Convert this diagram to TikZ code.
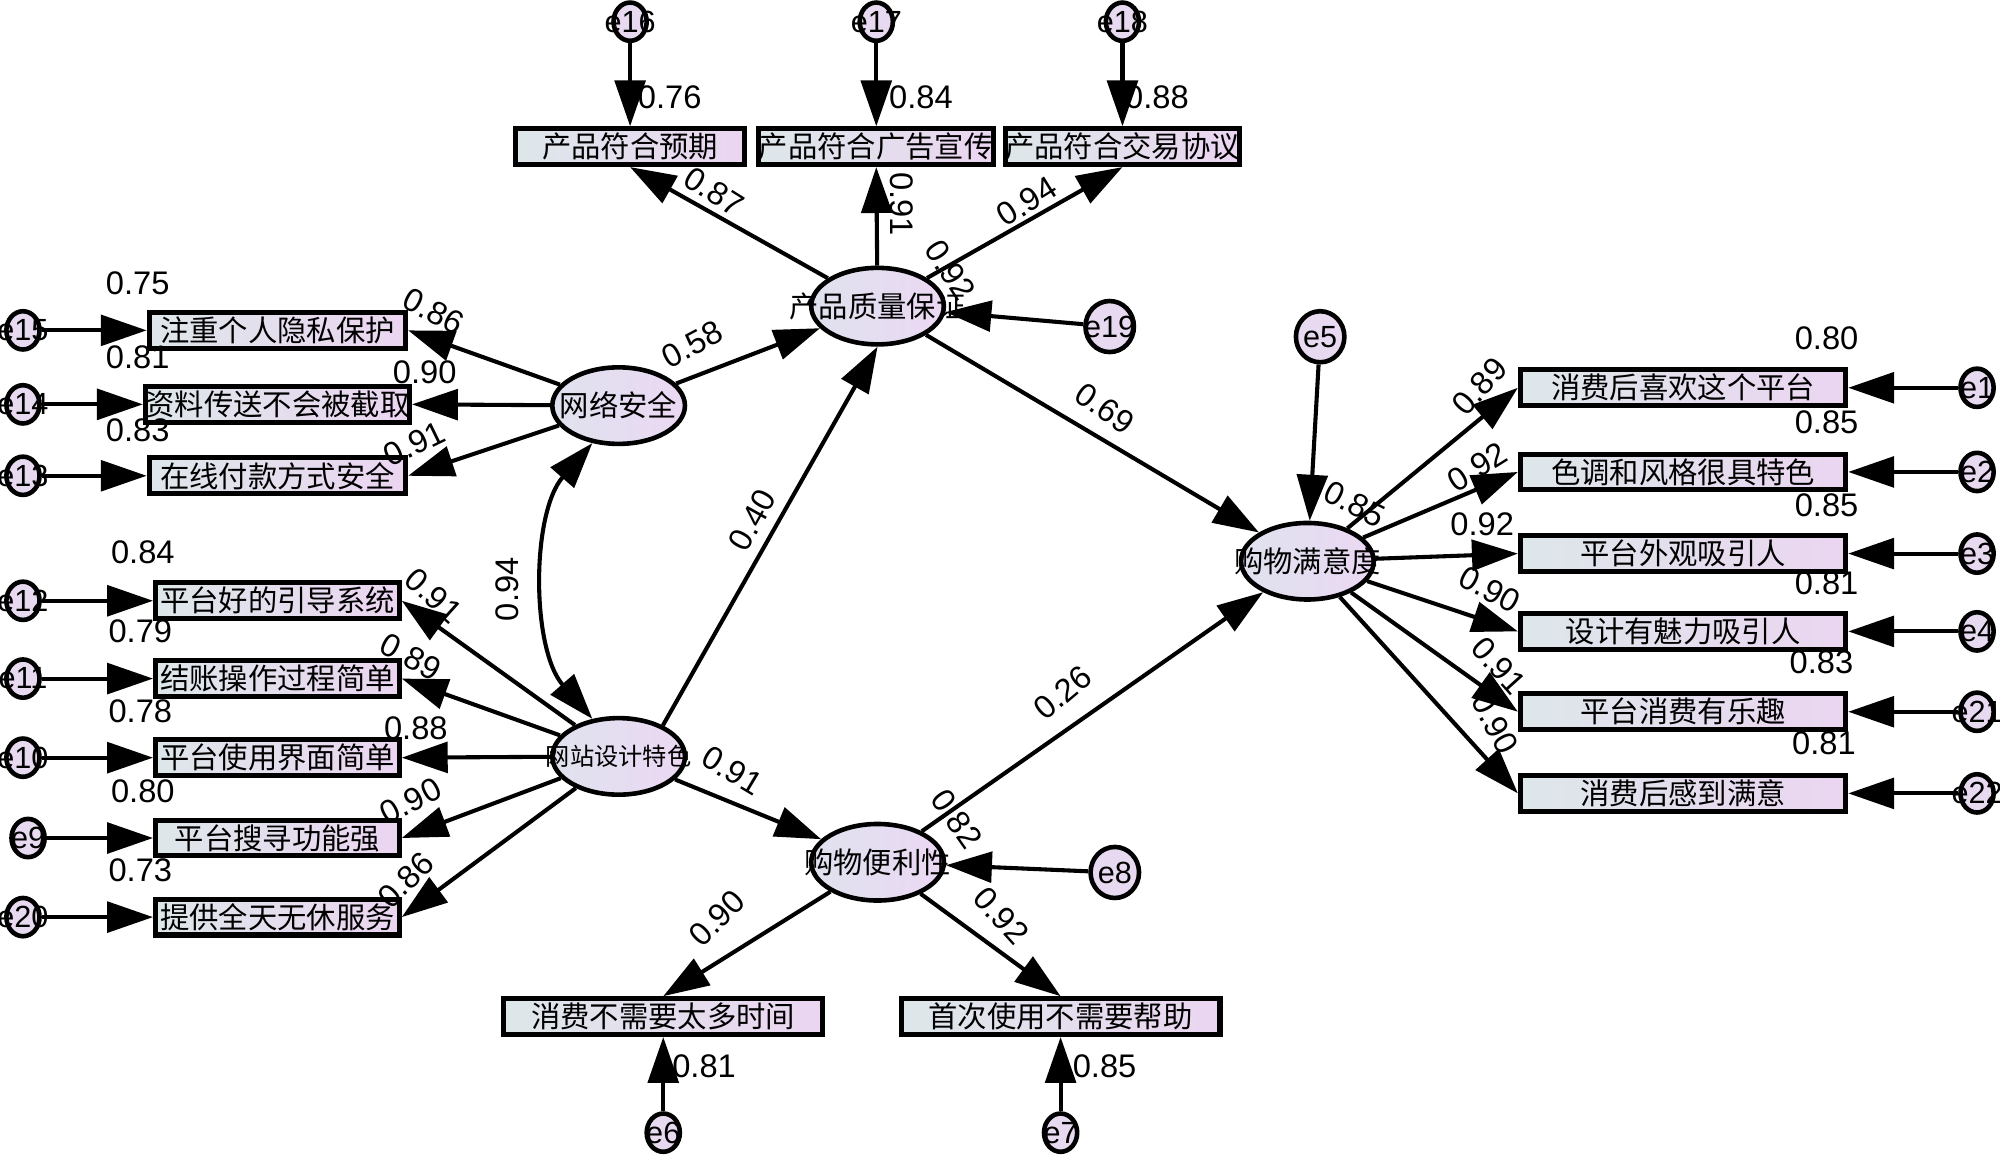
\documentclass[tikz,border=0pt]{standalone}
\usepackage{fontspec}
\setmainfont{Liberation Sans}
\newfontfamily\cjk{Noto Sans CJK SC}
\usetikzlibrary{arrows.meta,shapes.geometric}
\definecolor{boxL}{HTML}{DDE7EA}
\definecolor{boxR}{HTML}{EBD5F1}
\definecolor{latL}{HTML}{DFE2EE}
\definecolor{latR}{HTML}{EBD8F3}
\definecolor{errF}{HTML}{E7DAF0}
\tikzset{
 obs/.style={rectangle, draw, line width=2pt, left color=boxL, right color=boxR, minimum height=14pt, inner sep=0pt, font=\cjk\fontsize{11.5}{12}\selectfont},
 lat/.style={ellipse, draw, line width=1.8pt, left color=latL, right color=latR, minimum width=52pt, minimum height=30pt, inner sep=0pt},
 latlbl/.style={font=\cjk\fontsize{11.5}{12}\selectfont, inner sep=0pt},
 errs/.style={ellipse, draw, line width=1.8pt, fill=errF, minimum width=13pt, minimum height=15pt, inner sep=0pt},
 errb/.style={ellipse, draw, line width=1.8pt, fill=errF, minimum width=19pt, minimum height=20pt, inner sep=0pt},
 elbl/.style={font=\fontsize{12}{12}\selectfont, inner sep=0pt},
 num/.style={font=\fontsize{12.8}{13}\selectfont, inner sep=0pt},
 arr/.style={line width=1.6pt, -{Triangle[length=18pt,width=12pt]}},
 darr/.style={line width=1.6pt, {Triangle[length=18pt,width=12pt]}-{Triangle[length=18pt,width=12pt]}},
}
\begin{document}
\begin{tikzpicture}[x=0.5pt,y=-0.5pt]
\useasboundingbox (0,0) rectangle (1568,906);
\fill[white] (0,0) rectangle (1568,906);
% ---------- latent variables
\node[lat, label={[latlbl]center:产品质量保证}] (pq) at (688,240) {};
\node[lat, label={[latlbl]center:网络安全}] (ns) at (485,318) {};
\node[lat, label={[latlbl,font=\cjk\fontsize{9.5}{10}\selectfont]center:网站设计特色}] (wd) at (485,593) {};
\node[lat, label={[latlbl]center:购物便利性}] (cv) at (688,676) {};
\node[lat, label={[latlbl]center:购物满意度}] (sat) at (1025,440) {};
% ---------- top indicators
\node[obs, minimum width=90pt] (t1) at (494,115) {产品符合预期};
\node[obs, minimum width=90pt] (t2) at (687,115) {产品符合广告宣传};
\node[obs, minimum width=90pt] (t3) at (880,115) {产品符合交易协议};
\node[errs, label={[elbl]center:e16}] (e16) at (494,17) {};
\node[errs, label={[elbl]center:e17}] (e17) at (687,17) {};
\node[errs, label={[elbl]center:e18}] (e18) at (880,17) {};
% ---------- left group 1
\node[obs, minimum width=100.5pt] (s1) at (217.5,259) {注重个人隐私保护};
\node[obs, minimum width=100.5pt] (s2) at (217.5,317) {资料传送不会被截取};
\node[obs, minimum width=100.5pt] (s3) at (217.5,373) {在线付款方式安全};
\node[errs, label={[elbl]center:e15}] (e15) at (18,259) {};
\node[errs, label={[elbl]center:e14}] (e14) at (18,317) {};
\node[errs, label={[elbl]center:e13}] (e13) at (18,373) {};
% ---------- left group 2
\node[obs, minimum width=95.5pt] (w1) at (217.5,471) {平台好的引导系统};
\node[obs, minimum width=95.5pt] (w2) at (217.5,532) {结账操作过程简单};
\node[obs, minimum width=95.5pt] (w3) at (217.5,594) {平台使用界面简单};
\node[obs, minimum width=95.5pt] (w4) at (217.5,657) {平台搜寻功能强};
\node[obs, minimum width=95.5pt] (w5) at (217.5,719) {提供全天无休服务};
\node[errs, label={[elbl]center:e12}] (e12) at (18,471) {};
\node[errs, label={[elbl]center:e11}] (e11) at (18,532) {};
\node[errs, label={[elbl]center:e10}] (e10) at (18,594) {};
\node[errs, label={[elbl]center:e9}] (e9) at (22,657) {};
\node[errs, label={[elbl]center:e20}] (e20) at (18,719) {};
% ---------- bottom indicators
\node[obs, minimum width=125pt] (c1) at (520,797) {消费不需要太多时间};
\node[obs, minimum width=125pt] (c2) at (831.5,797) {首次使用不需要帮助};
\node[errs, label={[elbl]center:e6}] (e6) at (520,888) {};
\node[errs, label={[elbl]center:e7}] (e7) at (831.5,888) {};
% ---------- right indicators
\node[obs, minimum width=127.5pt] (r1) at (1319.5,304) {消费后喜欢这个平台};
\node[obs, minimum width=127.5pt] (r2) at (1319.5,370) {色调和风格很具特色};
\node[obs, minimum width=127.5pt] (r3) at (1319.5,434) {平台外观吸引人};
\node[obs, minimum width=127.5pt] (r4) at (1319.5,495) {设计有魅力吸引人};
\node[obs, minimum width=127.5pt] (r5) at (1319.5,558) {平台消费有乐趣};
\node[obs, minimum width=127.5pt] (r6) at (1319.5,622) {消费后感到满意};
\node[errs, label={[elbl]center:e1}] (e1) at (1550,304) {};
\node[errs, label={[elbl]center:e2}] (e2) at (1550,370) {};
\node[errs, label={[elbl]center:e3}] (e3) at (1550,434) {};
\node[errs, label={[elbl]center:e4}] (e4) at (1550,495) {};
\node[errs, label={[elbl]center:e21}] (e21) at (1550,558) {};
\node[errs, label={[elbl]center:e22}] (e22) at (1550,622) {};
% ---------- structural disturbances
\node[errb, label={[elbl]center:e19}] (e19) at (870,256) {};
\node[errb, label={[elbl]center:e5}] (e5) at (1035,264) {};
\node[errb, label={[elbl]center:e8}] (e8) at (874,684) {};
% ---------- connectors
\foreach \e/\b in {e16/t1,e17/t2,e18/t3} \draw[arr] (\e) -- (\b.north);
\foreach \b in {t1,t2,t3} \draw[arr] (pq) -- (\b.south);
\foreach \e/\b in {e15/s1,e14/s2,e13/s3,e12/w1,e11/w2,e10/w3,e9/w4,e20/w5} \draw[arr] (\e) -- (\b.west);
\foreach \b in {s1,s2,s3} \draw[arr] (ns) -- (\b.east);
\foreach \b in {w1,w2,w3,w4,w5} \draw[arr] (wd) -- (\b.east);
\foreach \b in {c1,c2} \draw[arr] (cv) -- (\b.north);
\foreach \e/\b in {e6/c1,e7/c2} \draw[arr] (\e) -- (\b.south);
\foreach \b in {r1,r2,r3,r4,r5,r6} \draw[arr] (sat) -- (\b.west);
\foreach \e/\b in {e1/r1,e2/r2,e3/r3,e4/r4,e21/r5,e22/r6} \draw[arr] (\e) -- (\b.east);
\draw[arr] (ns) -- (pq);
\draw[arr] (wd.35) -- (pq.south);
\draw[arr] (wd) -- (cv);
\draw[arr] (pq) -- (sat);
\draw[arr] (cv) -- (sat);
\draw[arr] (e19) -- (pq);
\draw[arr] (e5) -- (sat);
\draw[arr] (e8) -- (cv);
\draw[darr] (ns.235) .. controls +(-48,55) and +(-48,-55) .. (wd.125);
% ---------- numbers
\node[num] (n1) at (525,76) {0.76};
\node[num] (n2) at (722,76) {0.84};
\node[num] (n3) at (907,76) {0.88};
\node[num,rotate=-32] (n4) at (560,150) {0.87};
\node[num,rotate=-90] (n5) at (707,160) {0.91};
\node[num,rotate=32] (n6) at (805,158) {0.94};
\node[num,rotate=-57] (n7) at (745,212) {0.92};
\node[num] (n8) at (108,222) {0.75};
\node[num] (n9) at (108,280) {0.81};
\node[num] (n10) at (108,337) {0.83};
\node[num,rotate=-27] (n11) at (340,244) {0.86};
\node[num] (n12) at (333,292) {0.90};
\node[num,rotate=26] (n13) at (325,348) {0.91};
\node[num] (n14) at (112,433) {0.84};
\node[num] (n15) at (110,495) {0.79};
\node[num] (n16) at (110,558) {0.78};
\node[num] (n17) at (112,620) {0.80};
\node[num] (n18) at (110,682) {0.73};
\node[num,rotate=-42] (n19) at (340,467) {0.91};
\node[num,rotate=-28] (n20) at (322,515) {0.89};
\node[num] (n21) at (326,571) {0.88};
\node[num,rotate=28] (n22) at (322,628) {0.90};
\node[num,rotate=45] (n23) at (318,690) {0.86};
\node[num,rotate=90] (n24) at (398,462) {0.94};
\node[num,rotate=28] (n25) at (543,270) {0.58};
\node[num,rotate=61] (n26) at (590,408) {0.40};
\node[num,rotate=-31] (n27) at (574,604) {0.91};
\node[num,rotate=40] (n28) at (833,543) {0.26};
\node[num,rotate=-35] (n29) at (866,320) {0.69};
\node[num,rotate=-55] (n30) at (750,642) {0.82};
\node[num,rotate=-27] (n31) at (1062,395) {0.85};
\node[num,rotate=45] (n32) at (562,720) {0.90};
\node[num,rotate=-48] (n33) at (785,718) {0.92};
\node[num] (n34) at (552,836) {0.81};
\node[num] (n35) at (866,836) {0.85};
\node[num] (n36) at (1432,265) {0.80};
\node[num] (n37) at (1432,331) {0.85};
\node[num] (n38) at (1432,396) {0.85};
\node[num] (n39) at (1432,457) {0.81};
\node[num] (n40) at (1428,519) {0.83};
\node[num] (n41) at (1430,583) {0.81};
\node[num,rotate=48] (n42) at (1160,303) {0.89};
\node[num,rotate=32] (n43) at (1158,366) {0.92};
\node[num] (n44) at (1162,411) {0.92};
\node[num,rotate=-28] (n45) at (1168,462) {0.90};
\node[num,rotate=-48] (n46) at (1175,522) {0.91};
\node[num,rotate=-62] (n47) at (1172,567) {0.90};
\end{tikzpicture}
\end{document}
